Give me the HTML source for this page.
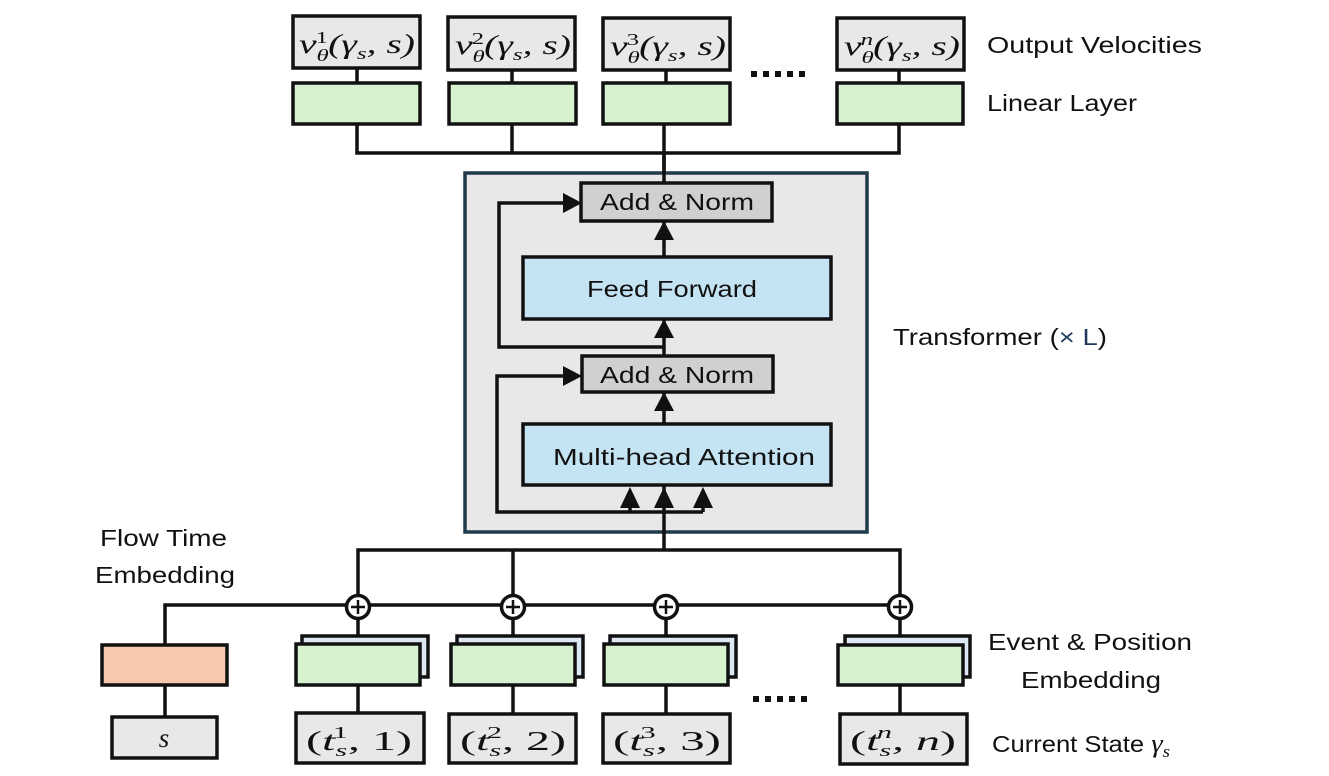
<!DOCTYPE html>
<html><head><meta charset="utf-8"><style>
html,body{margin:0;padding:0;background:#fff;}
svg{display:block;}
.lbl{font-family:"Liberation Sans",sans-serif;font-size:23px;fill:#111;}
.m{font-family:"Liberation Serif",serif;font-style:italic;font-size:27px;fill:#111;}
.up{font-family:"Liberation Serif",serif;font-style:normal;}
.sm{font-size:17px;}
.bx{stroke:#111;stroke-width:3.5;}
.ln{stroke:#111;stroke-width:3.5;fill:none;}
</style></head><body>
<svg width="1329" height="776" viewBox="0 0 1329 776" xmlns="http://www.w3.org/2000/svg">
<path class="ln" d="M357 124 V153 H899 V124 M512 124 V153 M664 124 V183"/>
<path class="ln" d="M357 68 V83 M512 70 V83 M666 70 V83 M899 70 V83"/>
<g class="bx" fill="#e8e8e8">
<rect x="293" y="16" width="127" height="52"/>
<rect x="448" y="17" width="127" height="53"/>
<rect x="603" y="18" width="127" height="52"/>
<rect x="837" y="18" width="127" height="52"/>
</g>
<g class="bx" fill="#d8f2d0">
<rect x="293" y="83" width="127" height="41"/>
<rect x="449" y="83" width="127" height="41"/>
<rect x="603" y="83" width="127" height="41"/>
<rect x="837" y="83" width="126" height="41"/>
</g>
<text class="m" x="299" y="53" textLength="116" lengthAdjust="spacingAndGlyphs">v<tspan class="sm" dy="8">θ</tspan><tspan class="sm up" dx="-9" dy="-18">1</tspan><tspan dy="10">(γ</tspan><tspan class="sm" dy="6">s</tspan><tspan dy="-6">, s)</tspan></text>
<text class="m" x="455" y="54" textLength="116" lengthAdjust="spacingAndGlyphs">v<tspan class="sm" dy="8">θ</tspan><tspan class="sm up" dx="-9" dy="-18">2</tspan><tspan dy="10">(γ</tspan><tspan class="sm" dy="6">s</tspan><tspan dy="-6">, s)</tspan></text>
<text class="m" x="610" y="55" textLength="116" lengthAdjust="spacingAndGlyphs">v<tspan class="sm" dy="8">θ</tspan><tspan class="sm up" dx="-9" dy="-18">3</tspan><tspan dy="10">(γ</tspan><tspan class="sm" dy="6">s</tspan><tspan dy="-6">, s)</tspan></text>
<text class="m" x="844" y="55" textLength="116" lengthAdjust="spacingAndGlyphs">v<tspan class="sm" dy="8">θ</tspan><tspan class="sm" dx="-9" dy="-18">n</tspan><tspan dy="10">(γ</tspan><tspan class="sm" dy="6">s</tspan><tspan dy="-6">, s)</tspan></text>
<g fill="#111">
<rect x="751" y="71" width="6" height="6"/><rect x="763" y="71" width="6" height="6"/><rect x="775" y="71" width="6" height="6"/><rect x="787" y="71" width="6" height="6"/><rect x="799" y="71" width="6" height="6"/>
<rect x="753" y="696" width="6" height="6"/><rect x="765" y="696" width="6" height="6"/><rect x="777" y="696" width="6" height="6"/><rect x="789" y="696" width="6" height="6"/><rect x="801" y="696" width="6" height="6"/>
</g>
<rect x="465" y="173" width="402" height="359" fill="#e8e8e8" stroke="#1f3a4a" stroke-width="3.5"/>
<path class="ln" d="M664 153 V183"/>
<path class="ln" d="M664 221 V257 M664 319 V356 M664 392 V424 M664 485 V550"/>
<path class="ln" d="M664 347 H499 V203 H565"/>
<path class="ln" d="M565 376 H497 V512 H703 M630 512 V500 M703 512 V500"/>
<g fill="#111">
<polygon points="582,203 563,193 563,213"/>
<polygon points="582,376 563,366 563,386"/>
<polygon points="664,221 654,240 674,240"/>
<polygon points="664,319 654,338 674,338"/>
<polygon points="664,392 654,411 674,411"/>
<polygon points="630,487 620,508 640,508"/>
<polygon points="664,487 654,508 674,508"/>
<polygon points="703,487 693,508 713,508"/>
</g>
<rect class="bx" x="581" y="183" width="191" height="38" fill="#d0d0d0"/>
<rect class="bx" x="582" y="356" width="191" height="36" fill="#d0d0d0"/>
<rect class="bx" x="523" y="257" width="308" height="62" fill="#c4e4f4"/>
<rect class="bx" x="523" y="424" width="308" height="61" fill="#c4e4f4"/>
<text class="lbl" x="600" y="210" textLength="154" lengthAdjust="spacingAndGlyphs">Add &amp; Norm</text>
<text class="lbl" x="600" y="383" textLength="154" lengthAdjust="spacingAndGlyphs">Add &amp; Norm</text>
<text class="lbl" x="587" y="297" textLength="170" lengthAdjust="spacingAndGlyphs">Feed Forward</text>
<text class="lbl" x="553" y="465" textLength="262" lengthAdjust="spacingAndGlyphs">Multi-head Attention</text>
<path class="ln" d="M358 607 V550 H900 V607 M513 550 V607"/>
<path class="ln" d="M165 645 V605 H900"/>
<path class="ln" d="M358 607 V644 M513 607 V644 M666 607 V644 M900 607 V645"/>
<path class="ln" d="M358 685 V713 M513 685 V713 M666 685 V713 M900 685 V714 M165 685 V717"/>
<g class="bx" fill="#dde8f4">
<rect x="302" y="636" width="126" height="41"/>
<rect x="457" y="636" width="126" height="41"/>
<rect x="610" y="636" width="126" height="41"/>
<rect x="845" y="636" width="125" height="41"/>
</g>
<g class="bx" fill="#d8f2d0">
<rect x="296" y="644" width="124" height="41"/>
<rect x="451" y="644" width="124" height="41"/>
<rect x="604" y="644" width="124" height="41"/>
<rect x="838" y="645" width="125" height="40"/>
</g>
<rect class="bx" x="102" y="645" width="125" height="40" fill="#f6c8ae"/>
<g class="bx" fill="#e8e8e8">
<rect x="112" y="717" width="105" height="41"/>
<rect x="296" y="713" width="128" height="50"/>
<rect x="449" y="714" width="127" height="49"/>
<rect x="603" y="714" width="127" height="49"/>
<rect x="840" y="714" width="127" height="50"/>
</g>
<text class="m" x="164" y="747" text-anchor="middle">s</text>
<text class="m" x="306" y="750" textLength="106" lengthAdjust="spacingAndGlyphs"><tspan class="up">(</tspan>t<tspan class="sm" dy="6">s</tspan><tspan class="sm up" dx="-8" dy="-18">1</tspan><tspan class="up" dy="12">, 1)</tspan></text>
<text class="m" x="460" y="750" textLength="106" lengthAdjust="spacingAndGlyphs"><tspan class="up">(</tspan>t<tspan class="sm" dy="6">s</tspan><tspan class="sm up" dx="-8" dy="-18">2</tspan><tspan class="up" dy="12">, 2)</tspan></text>
<text class="m" x="613" y="750" textLength="108" lengthAdjust="spacingAndGlyphs"><tspan class="up">(</tspan>t<tspan class="sm" dy="6">s</tspan><tspan class="sm up" dx="-8" dy="-18">3</tspan><tspan class="up" dy="12">, 3)</tspan></text>
<text class="m" x="850" y="750" textLength="106" lengthAdjust="spacingAndGlyphs"><tspan class="up">(</tspan>t<tspan class="sm" dy="6">s</tspan><tspan class="sm" dx="-8" dy="-18">n</tspan><tspan dy="12">, n</tspan><tspan class="up">)</tspan></text>
<g>
<circle cx="358" cy="607" r="11.5" fill="#fff" stroke="#111" stroke-width="3.5"/>
<circle cx="513" cy="607" r="11.5" fill="#fff" stroke="#111" stroke-width="3.5"/>
<circle cx="666" cy="607" r="11.5" fill="#fff" stroke="#111" stroke-width="3.5"/>
<circle cx="900" cy="607" r="11.5" fill="#fff" stroke="#111" stroke-width="3.5"/>
<path stroke="#111" stroke-width="2.5" d="M351 607 H365 M358 600 V614 M506 607 H520 M513 600 V614 M659 607 H673 M666 600 V614 M893 607 H907 M900 600 V614"/>
</g>
<text class="lbl" x="987" y="53" textLength="215" lengthAdjust="spacingAndGlyphs">Output Velocities</text>
<text class="lbl" x="987" y="111" textLength="150" lengthAdjust="spacingAndGlyphs">Linear Layer</text>
<text class="lbl" x="893" y="345" textLength="214" lengthAdjust="spacingAndGlyphs">Transformer (<tspan fill="#1f3a5a">× L</tspan>)</text>
<text class="lbl" x="100" y="546" textLength="127" lengthAdjust="spacingAndGlyphs">Flow Time</text>
<text class="lbl" x="95" y="583" textLength="140" lengthAdjust="spacingAndGlyphs">Embedding</text>
<text class="lbl" x="988" y="650" textLength="204" lengthAdjust="spacingAndGlyphs">Event &amp; Position</text>
<text class="lbl" x="1021" y="688" textLength="140" lengthAdjust="spacingAndGlyphs">Embedding</text>
<text class="lbl" x="992" y="752" textLength="178" lengthAdjust="spacingAndGlyphs">Current State <tspan class="m" style="font-size:26px">γ</tspan><tspan class="m sm" dy="5">s</tspan></text>
</svg>
</body></html>
